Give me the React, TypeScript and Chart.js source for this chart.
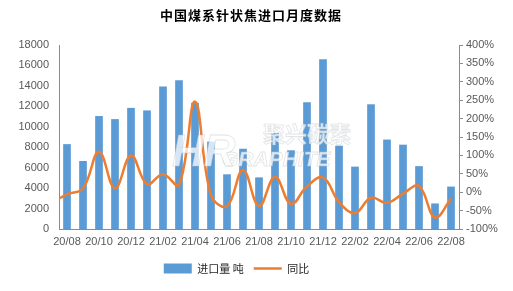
import React, { useEffect, useRef } from "react";
import { Chart, registerables } from "chart.js";

Chart.register(...registerables);

const titleText = "中国煤系针状焦进口月度数据";
const months = [
  "20/08", "20/09", "20/10", "20/11", "20/12", "21/01", "21/02", "21/03", "21/04",
  "21/05", "21/06", "21/07", "21/08", "21/09", "21/10", "21/11", "21/12", "22/01",
  "22/02", "22/03", "22/04", "22/05", "22/06", "22/07", "22/08",
];
const importTons = [
  8300, 6650, 11050, 10750, 11850, 11600, 13950, 14550, 12350, 8550, 5350, 7850, 5050,
  9400, 7700, 12400, 16600, 8150, 6100, 12200, 8750, 8250, 6150, 2500, 4150,
];
const yoyPct = [
  -6, 10, 110, 10, 100, 22, 49, 20, 246, -8, -38, 60, -38, 42, -32, 16, 40, -27, -57,
  -15, -29, -4, 17, -69, -18,
];
// the line enters the plot from the month before the first bar (clipped at the axis)
const priorMonth = "20/07";
const priorYoyPct = -30;
const barLabel = "进口量 吨";
const lineLabel = "同比";
const watermarkCn = "聚兴碳素";
const watermarkEn = "GRAPHITE";
const watermarkLogo = "HR";

const cjk = "'Noto Sans CJK SC', 'Noto Sans', sans-serif";
const latin = "'Liberation Sans', Arial, sans-serif";

const titlePlugin = {
  id: "customTitle",
  afterDraw(chart: any) {
    const ctx = chart.ctx;
    ctx.save();
    ctx.fillStyle = "#000000";
    ctx.font = `bold 13px ${cjk}`;
    (ctx as any).letterSpacing = "1px";
    ctx.textAlign = "center";
    ctx.textBaseline = "middle";
    ctx.fillText(titleText, 251, 15);
    ctx.restore();
  },
};

const legendShiftPlugin = {
  id: "legendShift",
  afterLayout(chart: any) {
    if (chart.legend) {
      chart.legend.left -= 20;
      chart.legend.right -= 20;
    }
  },
};

const watermarkPlugin = {
  id: "watermark",
  afterDatasetsDraw(chart: any) {
    const ctx = chart.ctx;
    ctx.save();
    ctx.fillStyle = "rgba(255,255,255,0.75)";
    ctx.strokeStyle = "rgba(190,195,200,0.45)";
    ctx.lineWidth = 0.8;
    ctx.textBaseline = "alphabetic";
    ctx.textAlign = "left";
    const put = (t: string, font: string, x: number, y: number) => {
      ctx.font = font;
      ctx.fillText(t, x, y);
      ctx.strokeText(t, x, y);
    };
    put(watermarkCn, `bold 22px ${cjk}`, 263, 142);
    put(watermarkEn, `italic bold 21px ${latin}`, 222, 166);
    put(watermarkLogo, `italic bold 44px ${latin}`, 172, 166);
    ctx.restore();
  },
};

export default function App() {
  const ref = useRef<HTMLCanvasElement | null>(null);

  useEffect(() => {
    if (!ref.current) return;
    const axisColor = "#8c8c8c";
    const tickColor = "#595959";
    const allLabels = [priorMonth, ...months];
    const chart = new Chart(ref.current, {
      data: {
        labels: allLabels,
        datasets: [
          {
            type: "line",
            label: lineLabel,
            data: [priorYoyPct, ...yoyPct],
            yAxisID: "y1",
            borderColor: "#ED7D31",
            backgroundColor: "#ED7D31",
            borderWidth: 2.5,
            pointRadius: 0,
            tension: 0.4,
            pointStyle: "line",
            order: 1,
          } as any,
          {
            type: "bar",
            label: barLabel,
            data: [null, ...importTons],
            yAxisID: "y",
            backgroundColor: "#5B9BD5",
            borderWidth: 0,
            categoryPercentage: 1,
            barPercentage: 0.48,
            pointStyle: "rect",
            order: 2,
          } as any,
        ],
      },
      options: {
        animation: false,
        responsive: false,
        maintainAspectRatio: false,
        layout: { padding: { top: 45, bottom: 7, left: 0, right: 0 } },
        plugins: {
          title: { display: false },
          tooltip: { enabled: false },
          legend: {
            position: "bottom",
            reverse: true,
            labels: {
              usePointStyle: true,
              pointStyleWidth: 28,
              boxHeight: 10,
              padding: 10,
              color: "#262626",
              font: { family: cjk, size: 11 },
            },
          },
        },
        scales: {
          x: {
            min: months[0],
            max: months[months.length - 1],
            grid: { display: false, drawTicks: false },
            border: { display: true, color: axisColor, width: 1 },
            ticks: {
              autoSkip: false,
              maxRotation: 0,
              minRotation: 0,
              color: tickColor,
              font: { family: latin, size: 11 },
              padding: 6,
              callback: (v: any) => {
                const i = Number(v) - 1;
                return i % 2 === 0 ? months[i] : "";
              },
            },
            afterFit: (s: any) => {
              s.height = 24;
            },
          },
          y: {
            position: "left",
            min: 0,
            max: 18000,
            grid: { display: false, drawTicks: false },
            border: { display: true, color: axisColor, width: 1 },
            ticks: {
              stepSize: 2000,
              color: tickColor,
              font: { family: latin, size: 11 },
              padding: 10,
              callback: (v: any) => String(v),
            },
            afterFit: (s: any) => {
              s.width = 59;
            },
          },
          y1: {
            position: "right",
            min: -100,
            max: 400,
            grid: {
              display: true,
              drawOnChartArea: false,
              drawTicks: true,
              tickLength: 4,
              color: axisColor,
            },
            border: { display: true, color: axisColor, width: 1 },
            ticks: {
              stepSize: 50,
              color: tickColor,
              font: { family: latin, size: 11 },
              padding: 3,
              callback: (v: any) => `${v}%`,
            },
            afterFit: (s: any) => {
              s.width = 54;
            },
          },
        },
      } as any,
      plugins: [titlePlugin, legendShiftPlugin, watermarkPlugin],
    });
    return () => chart.destroy();
  }, []);

  return (
    <div style={{ position: "fixed", left: 0, top: 0, width: 513, height: 291, background: "#ffffff" }}>
      <canvas ref={ref} width={513} height={291} />
    </div>
  );
}
